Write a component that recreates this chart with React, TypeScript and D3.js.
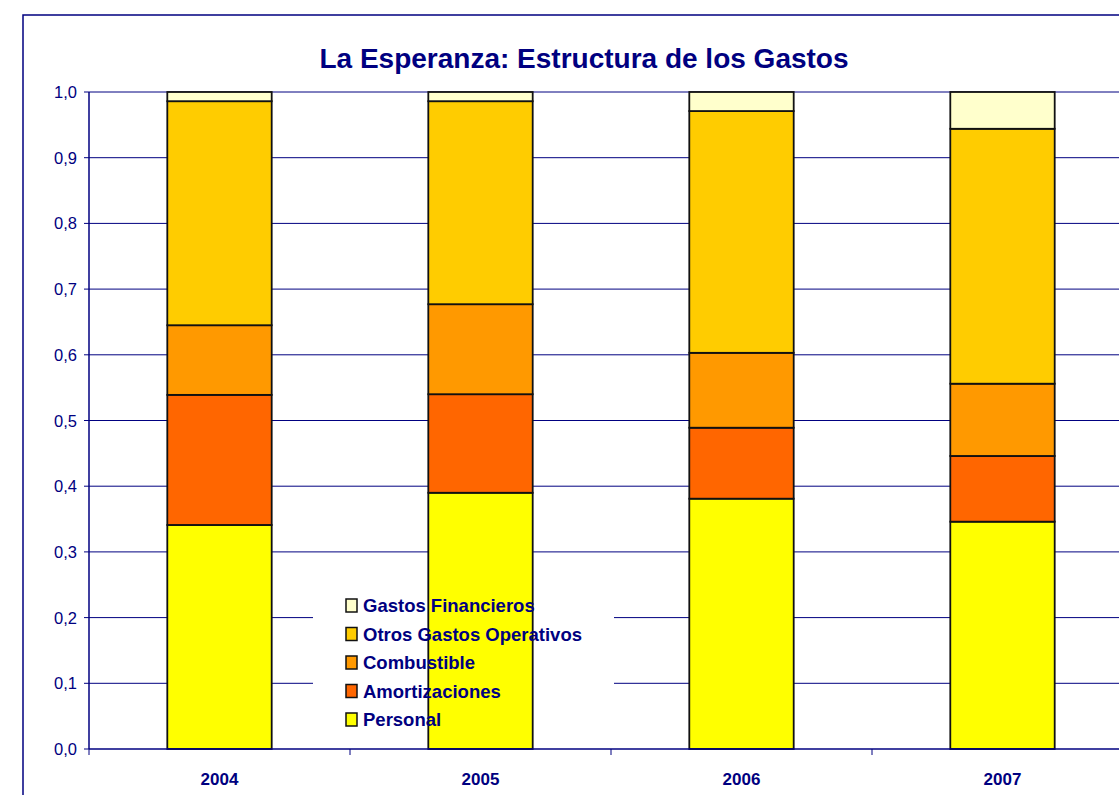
import { useEffect, useRef } from "react"
import * as d3 from "d3"

const years = ["2004", "2005", "2006", "2007"]
const seriesNames = ["Personal", "Amortizaciones", "Combustible", "Otros Gastos Operativos", "Gastos Financieros"]
const seriesColors = ["#FFFF00", "#FF6600", "#FF9900", "#FFCC00", "#FFFFCC"]

const personal = [0.341, 0.390, 0.381, 0.346]
const amortizaciones = [0.198, 0.150, 0.108, 0.100]
const combustible = [0.106, 0.137, 0.114, 0.110]
const otrosGastos = [0.341, 0.309, 0.368, 0.388]
const gastosFinancieros = [0.014, 0.014, 0.029, 0.056]

const yTicks = [0, 0.1, 0.2, 0.3, 0.4, 0.5, 0.6, 0.7, 0.8, 0.9, 1.0]

const W = 1119
const H = 795
const navy = "#000080"
const font = "'Liberation Sans', Arial, sans-serif"

export default function App() {
  const ref = useRef(null)

  useEffect(() => {
    const svg = d3.select(ref.current)
    svg.selectAll("*").remove()

    const left = 89, top = 92, bottom = 749, right = 89 + 4 * 261

    const rows = years.map((y, i) => ({
      year: y,
      Personal: personal[i],
      Amortizaciones: amortizaciones[i],
      Combustible: combustible[i],
      "Otros Gastos Operativos": otrosGastos[i],
      "Gastos Financieros": gastosFinancieros[i],
    }))
    const stacked = d3.stack().keys(seriesNames)(rows)

    const x = d3.scaleBand().domain(years).range([left, right]).paddingInner(0.6).paddingOuter(0.3)
    const y = d3.scaleLinear().domain([0, 1]).range([bottom, top])

    // outer frame
    svg.append("rect")
      .attr("x", 23).attr("y", 15).attr("width", W).attr("height", H)
      .attr("fill", "white").attr("stroke", navy).attr("stroke-width", 1.5)

    // title
    svg.append("text")
      .attr("x", 584).attr("y", 68)
      .attr("text-anchor", "middle")
      .attr("font-family", font).attr("font-weight", "bold").attr("font-size", 28)
      .attr("fill", navy)
      .text("La Esperanza: Estructura de los Gastos")

    // gridlines
    svg.append("g").selectAll("line")
      .data(yTicks.slice(1))
      .join("line")
      .attr("x1", left).attr("x2", right)
      .attr("y1", d => y(d)).attr("y2", d => y(d))
      .attr("stroke", navy).attr("stroke-width", 1)

    // legend backdrop hides the gridlines
    const lgX = 313, lgY = 585, lgW = 301, lgH = 152
    svg.append("rect")
      .attr("x", lgX).attr("y", lgY).attr("width", lgW).attr("height", lgH)
      .attr("fill", "white")

    // bars
    svg.append("g").selectAll("g")
      .data(stacked)
      .join("g")
      .attr("fill", (_, i) => seriesColors[i])
      .selectAll("rect")
      .data(d => d)
      .join("rect")
      .attr("x", d => x(d.data.year))
      .attr("width", x.bandwidth())
      .attr("y", d => y(d[1]))
      .attr("height", d => y(d[0]) - y(d[1]))
      .attr("stroke", "#111").attr("stroke-width", 1.8)

    // y axis
    const ya = svg.append("g")
    ya.append("line").attr("x1", left).attr("x2", left).attr("y1", top).attr("y2", bottom)
      .attr("stroke", navy).attr("stroke-width", 1.5)
    ya.selectAll(".tick")
      .data(yTicks)
      .join("line")
      .attr("x1", left - 5).attr("x2", left)
      .attr("y1", d => y(d)).attr("y2", d => y(d))
      .attr("stroke", navy).attr("stroke-width", 1)
    ya.selectAll("text")
      .data(yTicks)
      .join("text")
      .attr("x", 77).attr("y", d => y(d) + 6)
      .attr("text-anchor", "end")
      .attr("font-family", font).attr("font-size", 16.5).attr("fill", navy)
      .text(d => d3.format(".1f")(d).replace(".", ","))

    // x axis
    const xa = svg.append("g")
    xa.append("line").attr("x1", left).attr("x2", right).attr("y1", bottom).attr("y2", bottom)
      .attr("stroke", navy).attr("stroke-width", 1.5)
    xa.selectAll(".tick")
      .data(d3.range(5))
      .join("line")
      .attr("x1", i => left + i * x.step()).attr("x2", i => left + i * x.step())
      .attr("y1", bottom).attr("y2", bottom + 6)
      .attr("stroke", navy).attr("stroke-width", 1)
    xa.selectAll("text")
      .data(years)
      .join("text")
      .attr("x", d => x(d) + x.bandwidth() / 2)
      .attr("y", 785)
      .attr("text-anchor", "middle")
      .attr("font-family", font).attr("font-weight", "bold").attr("font-size", 17).attr("fill", navy)
      .text(d => d)

    // legend
    const legendOrder = seriesNames.map((n, i) => ({ n, c: seriesColors[i] })).reverse()
    const lg = svg.append("g")
    const items = lg.selectAll("g")
      .data(legendOrder)
      .join("g")
      .attr("transform", (_, i) => `translate(346, ${599 + i * 28.5})`)
    items.append("rect")
      .attr("width", 11).attr("height", 13)
      .attr("fill", d => d.c).attr("stroke", "#111").attr("stroke-width", 1.5)
    items.append("text")
      .attr("x", 17).attr("y", 13)
      .attr("font-family", font).attr("font-weight", "bold").attr("font-size", 18.5).attr("fill", navy)
      .text(d => d.n)
  }, [])

  return (
    <svg ref={ref} width={W} height={H}
      style={{ position: "absolute", left: 0, top: 0, display: "block", background: "white" }} />
  )
}
